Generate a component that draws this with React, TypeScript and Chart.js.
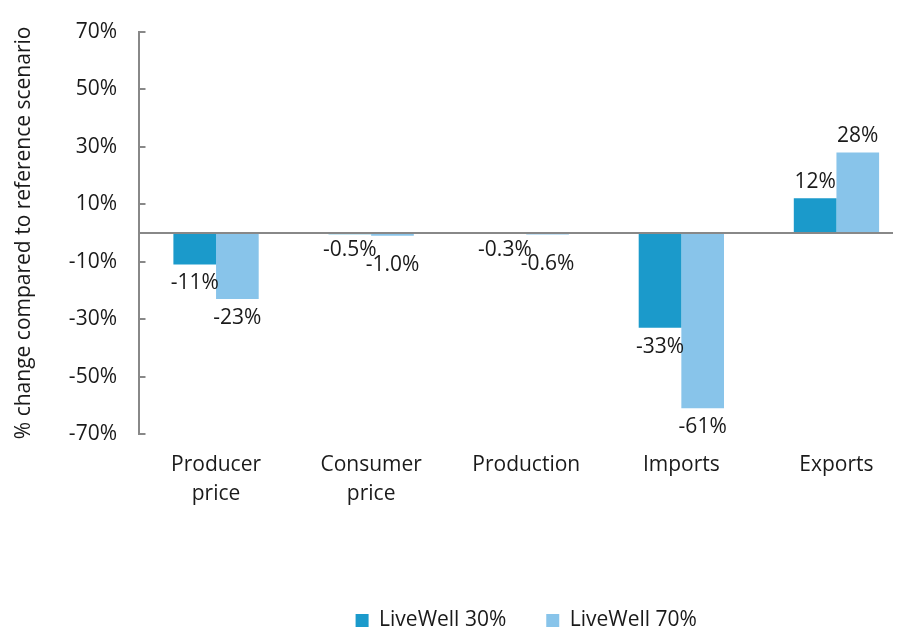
import React, { useEffect, useRef } from "react";
import { Chart, registerables } from "chart.js";

Chart.register(...registerables);

const categories: string[][] = [
  ["Producer", "price"],
  ["Consumer", "price"],
  ["Production"],
  ["Imports"],
  ["Exports"],
];
const seriesNames = ["LiveWell 30%", "LiveWell 70%"];
const livewell30 = [-11, -0.5, -0.3, -33, 12];
const livewell70 = [-23, -1.0, -0.6, -61, 28];
const yMin = -70;
const yMax = 70;
const yStep = 20;

const FONT = "'Open Sans', 'Noto Sans', sans-serif";
const TEXT = "#1a1a1a";
const AXIS = "#888888";

const fmt = (v: number) => (Math.abs(v) < 2 ? v.toFixed(1) : v.toFixed(0)) + "%";

const zeroLine = {
  id: "zeroLine",
  afterDatasetsDraw(chart: any) {
    const { ctx, chartArea, scales } = chart;
    const y = Math.round(scales.y.getPixelForValue(0));
    ctx.save();
    ctx.strokeStyle = AXIS;
    ctx.lineWidth = 2;
    ctx.beginPath();
    ctx.moveTo(chartArea.left, y);
    ctx.lineTo(chartArea.right + 10, y);
    ctx.stroke();
    ctx.restore();
  },
};

const valueLabels = {
  id: "valueLabels",
  afterDatasetsDraw(chart: any) {
    const { ctx } = chart;
    ctx.save();
    ctx.font = `21px ${FONT}`;
    ctx.fillStyle = TEXT;
    ctx.textAlign = "center";
    ctx.textBaseline = "middle";
    chart.data.datasets.forEach((ds: any, di: number) => {
      const meta = chart.getDatasetMeta(di);
      meta.data.forEach((bar: any, i: number) => {
        const v = ds.data[i] as number;
        let off = v >= 0 ? 16 : 19;
        if (Math.abs(v) < 2) off = di === 1 ? 29 : 16;
        const y = v >= 0 ? bar.y - off : bar.y + off;
        ctx.fillText(fmt(v), bar.x, y);
      });
    });
    ctx.restore();
  },
};

export default function App() {
  const ref = useRef<HTMLCanvasElement | null>(null);
  useEffect(() => {
    if (!ref.current) return;
    const chart = new Chart(ref.current, {
      type: "bar",
      data: {
        labels: categories,
        datasets: [
          {
            label: seriesNames[0],
            data: livewell30,
            backgroundColor: "#1b9acb",
            borderWidth: 0,
          },
          {
            label: seriesNames[1],
            data: livewell70,
            backgroundColor: "#88c4ea",
            borderWidth: 0,
          },
        ],
      },
      options: {
        responsive: false,
        animation: false,
        devicePixelRatio: 1,
        layout: { padding: { top: 23.7, left: 0, right: 4, bottom: 0 } },
        datasets: {
          bar: { categoryPercentage: 0.55, barPercentage: 1.0 },
        },
        plugins: {
          legend: {
            position: "bottom",
            fullSize: false,
            labels: {
              boxWidth: 13,
              boxHeight: 13,
              padding: 40,
              color: TEXT,
              font: { family: FONT, size: 21 },
            },
          },
          tooltip: { enabled: false },
          title: { display: false },
        },
        scales: {
          x: {
            grid: { display: false, drawTicks: false },
            border: { display: false },
            ticks: {
              color: TEXT,
              padding: 16.5,
              maxRotation: 0,
              autoSkip: false,
              font: { family: FONT, size: 21, lineHeight: 1.38 },
            },
            afterFit(scale: any) {
              scale.height = 136;
            },
          },
          y: {
            min: yMin,
            max: yMax,
            grid: {
              drawOnChartArea: false,
              drawTicks: true,
              tickLength: -7,
              color: AXIS,
              lineWidth: 2,
            },
            border: { display: true, color: AXIS, width: 2 },
            ticks: {
              stepSize: yStep,
              color: TEXT,
              padding: 28.5,
              font: { family: FONT, size: 21 },
              callback: (v: any) => `${v}%`,
            },
            title: {
              display: true,
              text: "% change compared to reference scenario",
              color: TEXT,
              font: { family: FONT, size: 21 },
              padding: { top: 3, bottom: 0 },
            },
            afterFit(scale: any) {
              scale.width = 130.5;
              scale.paddingTop = 0;
              scale.paddingBottom = 0;
            },
          },
        },
      },
      plugins: [zeroLine, valueLabels],
    });
    return () => chart.destroy();
  }, []);
  return (
    <div style={{ width: 893, height: 620, overflow: "hidden" }}>
      <canvas ref={ref} width={910} height={633} style={{ display: "block" }} />
    </div>
  );
}
